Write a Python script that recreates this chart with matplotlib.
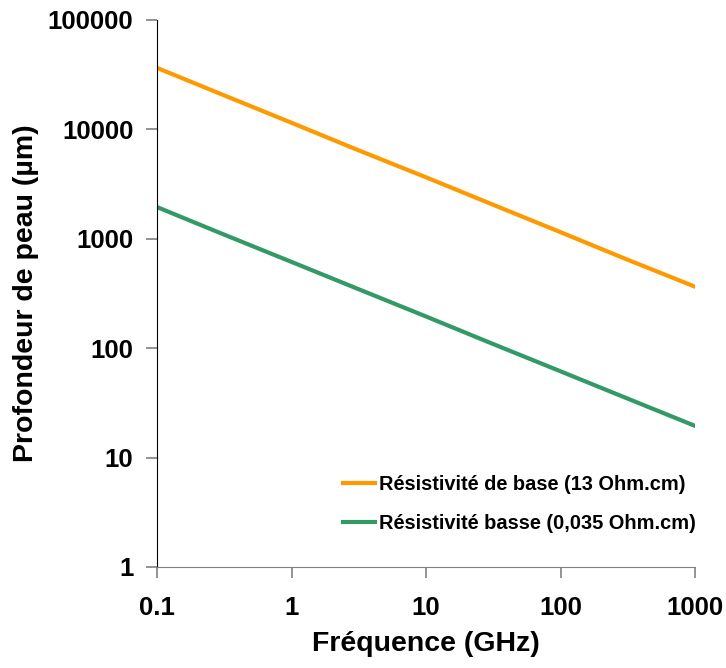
import matplotlib
matplotlib.use("Agg")
import matplotlib.pyplot as plt

plt.rcParams['font.family'] = ['Liberation Sans', 'DejaVu Sans']
plt.rcParams['font.weight'] = 'bold'

freq_ghz = [0.1, 0.3, 1, 3, 10, 30, 100, 300, 1000]
depth_base = [36500, 21000, 11500, 6600, 3650, 2100, 1150, 660, 365]
depth_low = [1950, 1120, 615, 355, 195, 112, 61.5, 35.5, 19.5]
label_base = "Résistivité de base (13 Ohm.cm)"
label_low = "Résistivité basse (0,035 Ohm.cm)"
x_ticks = [0.1, 1, 10, 100, 1000]
x_ticklabels = ["0.1", "1", "10", "100", "1000"]
y_ticks = [1, 10, 100, 1000, 10000, 100000]
y_ticklabels = ["1", "10", "100", "1000", "10000", "100000"]

fig = plt.figure(figsize=(7.26, 6.68), dpi=100)
ax = fig.add_axes([157/726, 1-567/668, (695-157)/726, (567-20)/668])
ax.plot(freq_ghz, depth_base, color='#FF9900', lw=3, label=label_base)
ax.plot(freq_ghz, depth_low, color='#339966', lw=3, label=label_low)
ax.set_xscale('log')
ax.set_yscale('log')
ax.set_xlim(0.1, 1000)
ax.set_ylim(1, 100000)
ax.set_xticks(x_ticks)
ax.set_xticklabels(x_ticklabels)
ax.set_yticks(y_ticks)
ax.set_yticklabels(y_ticklabels)
ax.minorticks_off()
ax.spines['top'].set_visible(False)
ax.spines['right'].set_visible(False)
ax.spines['left'].set_color('black')
ax.spines['bottom'].set_color('#808080')
ax.tick_params(axis='both', which='major', length=8, width=1.2, color='#808080',
               labelsize=18.5, direction='out')
ax.tick_params(axis='x', pad=13)
ax.tick_params(axis='y', pad=9)
for lab in ax.get_xticklabels() + ax.get_yticklabels():
    lab.set_fontweight('bold')
ax.set_xlabel("Fréquence (GHz)", fontsize=20.5, fontweight='bold', labelpad=8)
ax.set_ylabel("Profondeur de peau (µm)", fontsize=20.5, fontweight='bold', labelpad=6)
leg = ax.legend(loc='center left', bbox_to_anchor=(0.345, 0.116), frameon=False,
                prop={'weight': 'bold', 'size': 14.4}, handlelength=1.6,
                handletextpad=0.2, labelspacing=1.0, borderpad=0, borderaxespad=0)
fig.savefig("out.png", dpi=100)
